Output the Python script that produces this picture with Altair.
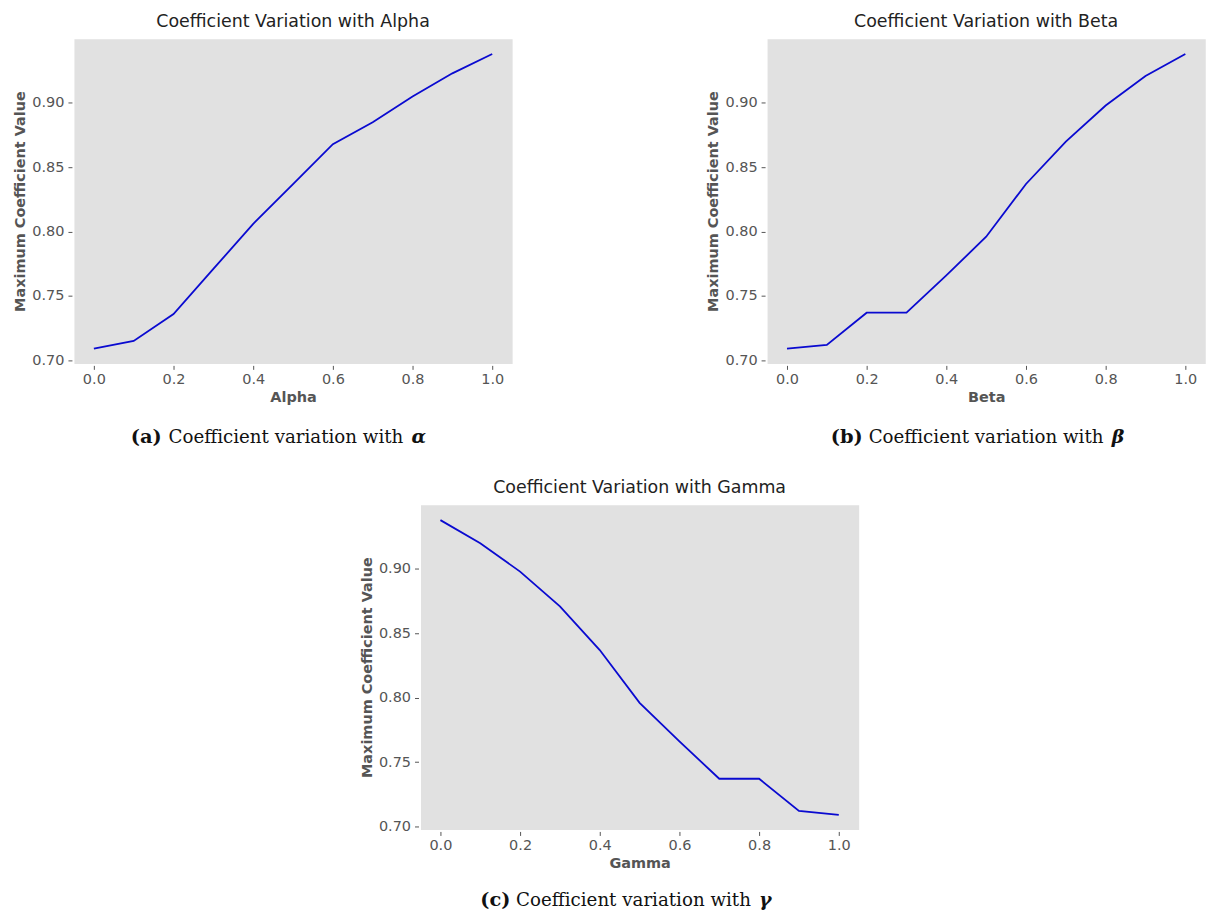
import altair as alt
import pandas as pd

# ---- data ----
x_vals = [0.0, 0.1, 0.2, 0.3, 0.4, 0.5, 0.6, 0.7, 0.8, 0.9, 1.0]
alpha_vals = [0.709, 0.715, 0.736, 0.771, 0.806, 0.837, 0.868, 0.885, 0.905, 0.923, 0.938]
beta_vals = [0.709, 0.712, 0.737, 0.737, 0.766, 0.796, 0.837, 0.870, 0.898, 0.921, 0.938]
gamma_vals = [0.938, 0.920, 0.898, 0.871, 0.837, 0.796, 0.766, 0.737, 0.737, 0.712, 0.709]

param_names = ["Alpha", "Beta", "Gamma"]
titles = ["Coefficient Variation with Alpha", "Coefficient Variation with Beta",
          "Coefficient Variation with Gamma"]
caption_tags = ["(a)", "(b)", "(c)"]
caption_body = "Coefficient variation with"
caption_symbols = ["α", "β", "γ"]
y_title = "Maximum Coefficient Value"
x_ticks = [0.0, 0.2, 0.4, 0.6, 0.8, 1.0]
y_ticks = [0.70, 0.75, 0.80, 0.85, 0.90]

W, H = 440, 326
AX_GREY = "#555555"
LINE_BLUE = "#0A0AD0"
CAP_FONT = "DejaVu Serif"


def panel(values, name, title, tag, symbol, cap_y, offs):
    df = pd.DataFrame({"x": x_vals, "y": values})
    line = alt.Chart(df).mark_line(color=LINE_BLUE, strokeWidth=1.8).encode(
        x=alt.X("x:Q", title=name,
                scale=alt.Scale(domain=[-0.05, 1.05], nice=False, zero=False),
                axis=alt.Axis(values=x_ticks, format=".1f", titlePadding=5,
                              labelPadding=3)),
        y=alt.Y("y:Q", title=y_title,
                scale=alt.Scale(domain=[0.6976, 0.9499], nice=False, zero=False),
                axis=alt.Axis(values=y_ticks, format=".2f", labelPadding=4)),
    )
    t1 = alt.Chart(pd.DataFrame({"t": [tag]})).mark_text(
        font=CAP_FONT, fontSize=19.5, fontWeight="bold", align="left",
        baseline="alphabetic", color="#111111"
    ).encode(text="t:N", x=alt.value(offs[0]), y=alt.value(cap_y))
    t2 = alt.Chart(pd.DataFrame({"t": [caption_body]})).mark_text(
        font=CAP_FONT, fontSize=18.3, align="left",
        baseline="alphabetic", color="#111111"
    ).encode(text="t:N", x=alt.value(offs[1]), y=alt.value(cap_y))
    t3 = alt.Chart(pd.DataFrame({"t": [symbol]})).mark_text(
        font=CAP_FONT, fontSize=19, fontWeight="bold", fontStyle="italic",
        align="left", baseline="alphabetic", color="#111111"
    ).encode(text="t:N", x=alt.value(offs[2]), y=alt.value(cap_y))
    return alt.layer(line, t1, t2, t3).properties(
        width=W, height=H, title=title
    )


pa = panel(alpha_vals, param_names[0], titles[0], caption_tags[0], caption_symbols[0], 406, [57, 95, 339])
pb = panel(beta_vals, param_names[1], titles[1], caption_tags[1], caption_symbols[1], 406, [64, 102, 346])
pc = panel(gamma_vals, param_names[2], titles[2], caption_tags[2], caption_symbols[2], 403, [60, 96, 340])

top = alt.hconcat(pa, pb, spacing=193)
chart = alt.vconcat(top, pc, spacing=31, center=True).properties(
    padding={"left": 12, "top": 11, "right": 0, "bottom": 0},
    background="white",
).configure_view(
    fill="#E1E1E1", stroke="transparent"
).configure_axis(
    grid=False, domain=False, ticks=True, tickSize=4, tickColor=AX_GREY,
    tickWidth=1, labelColor=AX_GREY, labelFont="DejaVu Sans", labelFontSize=14.5,
    titleFont="DejaVu Sans", titleFontSize=14.5,
    titleFontWeight="bold", titleColor=AX_GREY, titlePadding=4, offset=2,
).configure_title(
    font="DejaVu Sans", fontSize=17.5, fontWeight="normal", color="#222222",
    anchor="middle", frame="group", offset=8,
)

chart.save("out.html", embed_options={"renderer": "svg", "actions": False})
